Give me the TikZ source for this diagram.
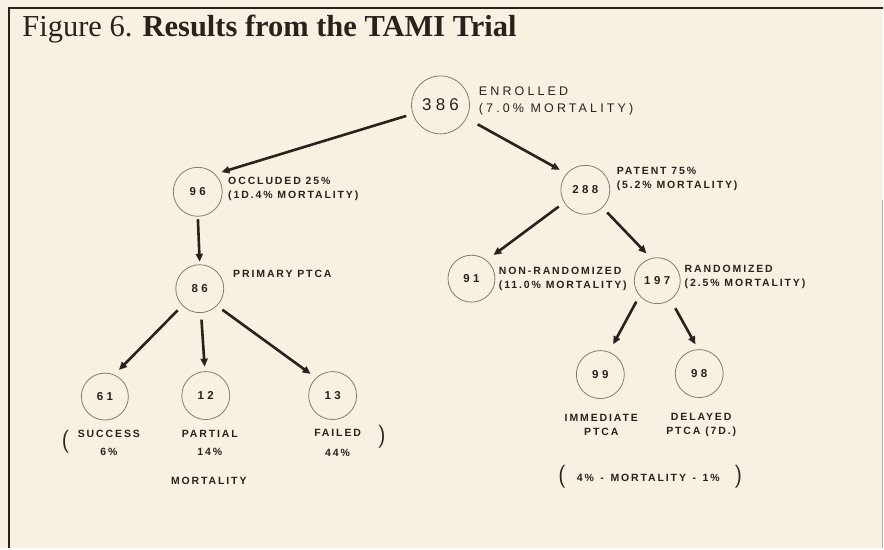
\documentclass[tikz,border=0pt]{standalone}
\usepackage{fontspec}
\setmainfont{Liberation Serif}
\newfontfamily\bigfont[LetterSpace=25]{Liberation Sans}
\newfontfamily\smallfont[LetterSpace=18]{Liberation Sans}
\newfontfamily\numfont[LetterSpace=30]{Liberation Sans}
\usetikzlibrary{arrows.meta, positioning}
\definecolor{cpaper}{HTML}{F8F1E1}
\definecolor{cink}{HTML}{2A211C}
\definecolor{cring}{HTML}{857B6C}
\tikzset{
  every picture/.style={line width=1pt},
  ring/.style={circle, draw=cring, line width=0.8pt, minimum size=#1, inner sep=0pt, outer sep=0pt, text=cink, font=\numfont\bfseries\fontsize{11.5}{13}\selectfont},
  ring/.default=48pt,
  lbl/.style={text=cink, inner sep=0pt, align=left, anchor=west, font=\smallfont\bfseries\fontsize{10.5}{14}\selectfont},
  lblc/.style={lbl, align=center, anchor=center},
  paren/.style={text=cink, inner sep=0pt, font=\fontsize{23}{23}\selectfont\sffamily},
  arrow/.style={-{Triangle[length=8pt, width=7pt]}, draw=cink, line width=2.6pt, shorten <=7pt, shorten >=7pt},
}
\begin{document}
\begin{tikzpicture}[x=1pt, y=-1pt]
  \fill[cpaper] (0,0) rectangle (884,549);
  \draw[cink, line width=2pt] (9,549) -- (9,8) -- (884,8);
  \draw[cring!60, line width=0.8pt] (883,200) -- (883,549);
  \node[anchor=base west, text=cink, inner sep=0pt, font=\fontsize{30.5}{34}\selectfont] (title) at (22,37) {Figure 6. \textbf{Results from the TAMI Trial}};
  % enrolled and first split
  \node[ring=58pt, font=\bigfont\fontsize{17}{20}\selectfont] (n386) at (441,105) {386};
  \node[lbl, font=\bigfont\fontsize{12.5}{17}\selectfont] (enrolled) at (479,101.5) {ENROLLED\\(7.0\% MORTALITY)};
  \node[ring=49pt] (n96) at (198,192) {96};
  \node[lbl] (occluded) at (228,189.5) {OCCLUDED 25\%\\(1D.4\% MORTALITY)};
  \node[ring=49pt] (n288) at (586,190) {288};
  \node[lbl] (patent) at (617,179) {PATENT 75\%\\(5.2\% MORTALITY)};
  % occluded branch
  \node[ring] (n86) at (200,289) {86};
  \node[lbl] (primary) at (233,274) {PRIMARY PTCA};
  \node[ring=47pt] (n61) at (105,397) {61};
  \node[ring] (n12) at (206,396) {12};
  \node[ring] (n13) at (333,396) {13};
  \node[lblc, font=\smallfont\bfseries\fontsize{10.5}{18}\selectfont] (success) at (109,443) {SUCCESS\\6\%};
  \node[lblc, font=\smallfont\bfseries\fontsize{10.5}{18}\selectfont] (partial) at (210,443) {PARTIAL\\14\%};
  \node[lblc, font=\smallfont\bfseries\fontsize{10.5}{20}\selectfont] (failed) at (338,443) {FAILED\\44\%};
  \node[paren] (openL) at (66,442) {(};
  \node[paren] (closeL) at (382,437) {)};
  \node[lblc] (mortL) at (209,481) {MORTALITY};
  % patent branch
  \node[ring=47pt] (n91) at (472,279) {91};
  \node[lbl] (nonrand) at (499,279) {NON-RANDOMIZED\\(11.0\% MORTALITY)};
  \node[ring=46pt] (n197) at (658,281) {197};
  \node[lbl] (rand) at (685,277.5) {RANDOMIZED\\(2.5\% MORTALITY)};
  \node[ring] (n99) at (601,375) {99};
  \node[ring] (n98) at (700,374) {98};
  \node[lblc] (immediate) at (602,425.5) {IMMEDIATE\\PTCA};
  \node[lblc] (delayed) at (702,425) {DELAYED\\PTCA (7D.)};
  \node[lblc] (mortR) at (649,478) {4\% \,-\, MORTALITY \,-\, 1\%};
  \node[paren] (openR) at (563,477) {(};
  \node[paren] (closeR) at (739,477) {)};
  % arrows
  \draw[arrow] (n386.198) -- (n96.46);
  \draw[arrow, shorten <=13pt, shorten >=8pt] (n386.333) -- (n288.139);
  \draw[arrow, shorten <=3pt, shorten >=3pt] (n96.south) -- (n86.north);
  \draw[arrow] (n86.224) -- (n61.67);
  \draw[arrow, shorten >=5pt] (n86.273) -- (n12.92);
  \draw[arrow] (n86.315) -- (n13.133);
  \draw[arrow, shorten >=9pt] (n288.211) -- (n91.51);
  \draw[arrow] (n288.314) -- (n197.105);
  \draw[arrow, shorten >=9pt] (n197.220) -- (n99.69);
  \draw[arrow, shorten <=10pt, shorten >=6pt] (n197.305) -- (n98.92);
\end{tikzpicture}
\end{document}
